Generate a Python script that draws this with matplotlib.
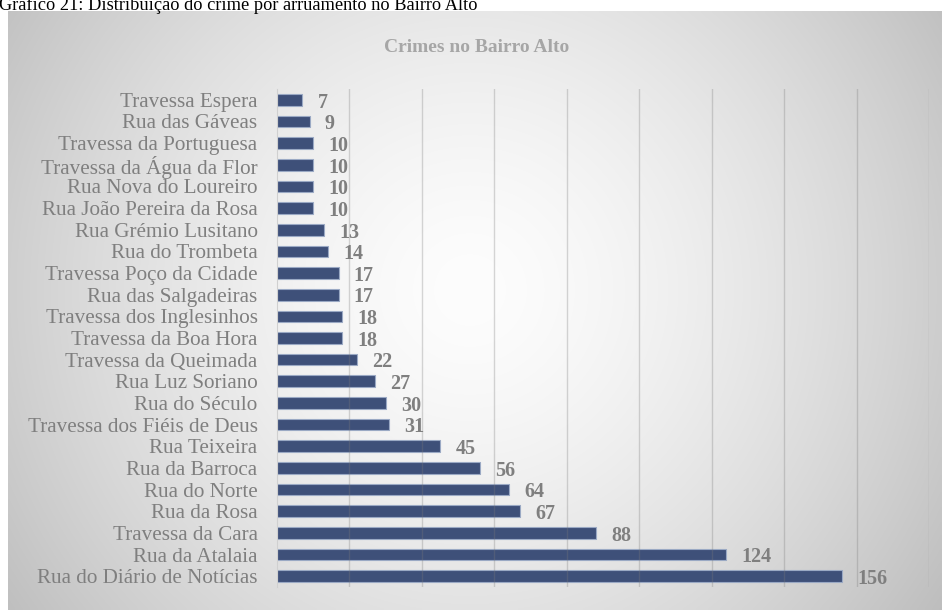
import matplotlib.pyplot as plt
import numpy as np

# streets, top to bottom as in the chart
streets = [
    "Travessa Espera", "Rua das Gáveas", "Travessa da Portuguesa",
    "Travessa da Água da Flor", "Rua Nova do Loureiro", "Rua João Pereira da Rosa",
    "Rua Grémio Lusitano", "Rua do Trombeta", "Travessa Poço da Cidade",
    "Rua das Salgadeiras", "Travessa dos Inglesinhos", "Travessa da Boa Hora",
    "Travessa da Queimada", "Rua Luz Soriano", "Rua do Século",
    "Travessa dos Fiéis de Deus", "Rua Teixeira", "Rua da Barroca",
    "Rua do Norte", "Rua da Rosa", "Travessa da Cara", "Rua da Atalaia",
    "Rua do Diário de Notícias",
]
crimes = [7, 9, 10, 10, 10, 10, 13, 14, 17, 17, 18, 18, 22, 27, 30, 31,
          45, 56, 64, 67, 88, 124, 156]
x_grid = np.arange(20, 181, 20)

caption = "Gráfico 21: Distribuição do crime por arruamento no Bairro Alto"
title = "Crimes no Bairro Alto"

W, H = 942, 610
serif = "Liberation Serif"

fig = plt.figure(figsize=(W / 100, H / 100), dpi=100)
fig.patch.set_facecolor("white")

# chart area with soft radial gradient
bg = fig.add_axes([8 / W, 0, 1 - 8 / W, 1 - 11 / H], zorder=0)
xx, yy = np.meshgrid(np.linspace(8, W, 300), np.linspace(11, H, 200))
d = np.sqrt(((xx - 470) / 520) ** 2 + ((yy - 290) / 520) ** 2)
g = (253 - 55 * d ** 1.5) / 255
bg.imshow(np.dstack([g, g, g]), aspect="auto", extent=[0, 1, 0, 1],
          interpolation="bilinear")
bg.set_axis_off()

# caption above chart, cut off at top
fig.text(-1 / W, 1 - 10 / H, caption, fontsize=13.2, family=serif,
         color="black", va="baseline", ha="left")

fig.text(477 / W, 1 - 47 / H, title, fontsize=14, family=serif,
         fontweight="bold", color="#a6a6a6", ha="center", va="center")

ax = fig.add_axes([277 / W, 23 / H, (929 - 277) / W, (521 - 23) / H], zorder=1)
ax.patch.set_alpha(0)
y = np.arange(len(streets))
ax.barh(y, crimes, height=0.54, color="#3e5079", edgecolor="#9aa9c4",
        linewidth=0.8, zorder=2)
ax.set_xlim(0, 180)
ax.set_ylim(len(streets) - 0.5, -0.5)

for xg in x_grid:
    ax.axvline(xg, color="#7a7a7a", alpha=0.3, linewidth=1, zorder=3)

for yi, v in zip(y, crimes):
    ax.annotate(str(v), (v, yi), xytext=(11, -2), textcoords="offset points",
                fontsize=14.5, family=serif, fontweight="bold",
                color="#7f7f7f", va="center", ha="left")

ax.set_yticks(y)
ax.set_yticklabels(streets, fontsize=15.2, family=serif, color="#7f7f7f")
ax.tick_params(axis="y", length=0, pad=14)
ax.set_xticks([])
for side in ["top", "right", "bottom"]:
    ax.spines[side].set_visible(False)
ax.spines["left"].set_color("#d0d0d0")

fig.savefig("out.png", dpi=100)
